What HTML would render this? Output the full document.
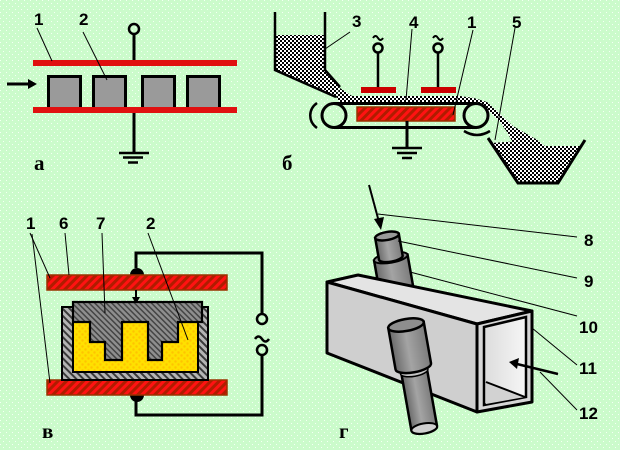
<!DOCTYPE html>
<html><head><meta charset="utf-8"><style>
html,body{margin:0;padding:0;background:#ccfccc;}
svg{display:block;}
.n{font-family:"Liberation Sans",Arial,sans-serif;font-weight:bold;font-size:17px;fill:#000;}
.l{font-family:"Liberation Serif","Times New Roman",serif;font-weight:bold;font-size:21px;fill:#000;}
</style></head><body>
<svg width="620" height="450" viewBox="0 0 620 450" xmlns="http://www.w3.org/2000/svg">
<defs>
<pattern id="bg" width="6" height="6" patternUnits="userSpaceOnUse">
<rect width="6" height="6" fill="#cbfbcb"/><rect x="0" y="0" width="1" height="1" fill="#f4fff4"/><rect x="3" y="3" width="1" height="1" fill="#f4fff4"/>
</pattern>
<pattern id="stip" width="4" height="4" patternUnits="userSpaceOnUse">
<rect width="4" height="4" fill="#fff"/><rect x="0" y="0" width="2" height="2" fill="#000"/><rect x="2" y="2" width="2" height="2" fill="#000"/>
</pattern>
<pattern id="red" width="6" height="6" patternUnits="userSpaceOnUse" patternTransform="rotate(45)">
<rect width="6" height="6" fill="#b01c00"/><rect x="0" width="3" height="6" fill="#ff1212"/>
</pattern>
<pattern id="gh" width="5" height="5" patternUnits="userSpaceOnUse" patternTransform="rotate(-45)">
<rect width="5" height="5" fill="#b4b4b4"/><rect x="0" width="2" height="5" fill="#3a3a3a"/>
</pattern>
<pattern id="dh" width="4" height="4" patternUnits="userSpaceOnUse" patternTransform="rotate(-45)">
<rect width="4" height="4" fill="#8e8e8e"/><rect x="0" width="1.5" height="4" fill="#444"/>
</pattern>
<pattern id="yel" width="6" height="6" patternUnits="userSpaceOnUse">
<rect width="6" height="6" fill="#ffe000"/><circle cx="1.5" cy="1.5" r="1.2" fill="#ffc400"/><circle cx="4.5" cy="4.5" r="1.2" fill="#ffc400"/>
</pattern>
<linearGradient id="cyl" x1="0" x2="1" y1="0" y2="0">
<stop offset="0" stop-color="#6a6a6a"/><stop offset="0.45" stop-color="#a4a4a4"/><stop offset="1" stop-color="#7c7c7c"/>
</linearGradient>
<linearGradient id="inner" x1="0" x2="1" y1="0" y2="0">
<stop offset="0" stop-color="#dcdcdc"/><stop offset="1" stop-color="#f6f6f6"/>
</linearGradient>
</defs>
<rect width="620" height="450" fill="url(#bg)"/>

<!-- ===== а ===== -->
<line x1="134" y1="34" x2="134" y2="60" stroke="#000" stroke-width="3"/>
<circle cx="134" cy="29" r="5" fill="none" stroke="#000" stroke-width="2.5"/>
<rect x="33" y="60" width="204" height="6" fill="#e01010"/>
<g fill="#9a9a9a" stroke="#000" stroke-width="3">
<rect x="48.5" y="76.5" width="32" height="32"/>
<rect x="93.5" y="76.5" width="32" height="32"/>
<rect x="142.5" y="76.5" width="32" height="32"/>
<rect x="187.5" y="76.5" width="32" height="32"/>
</g>
<rect x="33" y="107" width="204" height="6" fill="#e01010"/>
<line x1="134" y1="113" x2="134" y2="153" stroke="#000" stroke-width="3"/>
<g stroke="#000" stroke-width="2.5">
<line x1="119" y1="153" x2="149" y2="153"/>
<line x1="123" y1="157.5" x2="143" y2="157.5"/>
<line x1="128" y1="162.5" x2="138" y2="162.5"/>
</g>
<line x1="7" y1="84" x2="30" y2="84" stroke="#000" stroke-width="3"/>
<polygon points="37,84 28,79 28,89" fill="#000"/>
<g stroke="#000" stroke-width="1">
<line x1="37" y1="28" x2="52" y2="61"/>
<line x1="83" y1="32" x2="107" y2="80"/>
</g>
<text class="n" x="34" y="25">1</text>
<text class="n" x="79" y="25">2</text>
<text class="l" x="34" y="170">а</text>

<!-- ===== б ===== -->
<polygon points="276,35 324,35 324,70 340,87 336,97 276,70" fill="url(#stip)"/>
<path d="M336,97 L340,88 L352,96 L460,96 L474,98 L487,102 L497,111 L513,126 L527,134 L537,140 L542,146 L513,143 L507,132 L500,122 L490,112 L480,105 L470,103 L340,103 Z" fill="url(#stip)"/>
<polyline points="275,12 275,70 336,97" fill="none" stroke="#000" stroke-width="2.5"/>
<polyline points="325,12 325,70 340,87" fill="none" stroke="#000" stroke-width="2.5"/>
<polygon points="491,143 520,141 527,135 536,139 545,146 581,146 558,182 519,182" fill="url(#stip)"/>
<polyline points="488,138 518,183 558,183 585,140" fill="none" stroke="#000" stroke-width="3"/>
<g fill="none" stroke="#000" stroke-width="3">
<circle cx="334" cy="115.5" r="12"/>
<circle cx="476" cy="115.5" r="12"/>
<line x1="334" y1="103.5" x2="476" y2="103.5"/>
<line x1="334" y1="127.5" x2="476" y2="127.5"/>
</g>
<rect x="357" y="107" width="98" height="14" fill="url(#red)" stroke="#993300" stroke-width="1.5"/>
<line x1="407" y1="121" x2="407" y2="148" stroke="#000" stroke-width="3"/>
<g stroke="#000" stroke-width="2.5">
<line x1="392" y1="148" x2="422" y2="148"/>
<line x1="397" y1="153" x2="417" y2="153"/>
<line x1="402" y1="158" x2="412" y2="158"/>
</g>
<path d="M317,103 A18,16 0 0 0 317,128" fill="none" stroke="#000" stroke-width="2.5"/>
<path d="M464,131 Q477,139 490,131" fill="none" stroke="#000" stroke-width="2.5"/>
<rect x="361" y="87" width="35" height="6" fill="#cc0000"/>
<rect x="421" y="87" width="35" height="6" fill="#cc0000"/>
<g stroke="#000" stroke-width="2.5" fill="none">
<line x1="378" y1="53" x2="378" y2="87"/>
<line x1="438" y1="53" x2="438" y2="87"/>
<circle cx="378" cy="48" r="4.5"/>
<circle cx="438" cy="48" r="4.5"/>
<path d="M373,38 q2.5,-4 5,0 t5,0" stroke-width="2"/>
<path d="M433,38 q2.5,-4 5,0 t5,0" stroke-width="2"/>
</g>
<g stroke="#000" stroke-width="1">
<line x1="350" y1="32" x2="325" y2="49"/>
<line x1="412" y1="29" x2="406" y2="100"/>
<line x1="473" y1="30" x2="453" y2="115"/>
<line x1="515" y1="28" x2="495" y2="140"/>
</g>
<text class="n" x="352" y="27">3</text>
<text class="n" x="409" y="28">4</text>
<text class="n" x="467" y="28">1</text>
<text class="n" x="512" y="28">5</text>
<text class="l" x="282" y="170">б</text>

<!-- ===== в ===== -->
<polyline points="136,268 136,253 262,253 262,314" fill="none" stroke="#000" stroke-width="3"/>
<polyline points="262,355 262,415 136,415 136,400" fill="none" stroke="#000" stroke-width="3"/>
<circle cx="262" cy="319" r="5" fill="none" stroke="#000" stroke-width="2.5"/>
<circle cx="262" cy="350" r="5" fill="none" stroke="#000" stroke-width="2.5"/>
<path d="M255,339 q3.5,-5 7,0 t7,0" fill="none" stroke="#000" stroke-width="2.5"/>
<path d="M130,275 A7,7 0 0 1 144,275 Z" fill="#000"/>
<path d="M130,395 A7,7 0 0 0 144,395 Z" fill="#000"/>
<rect x="47" y="275" width="180" height="15" fill="url(#red)" stroke="#993300" stroke-width="1.5"/>
<rect x="47" y="380" width="180" height="15" fill="url(#red)" stroke="#993300" stroke-width="1.5"/>
<line x1="136" y1="290" x2="136" y2="298" stroke="#000" stroke-width="2"/>
<polygon points="136,304 132,297 140,297" fill="#000"/>
<rect x="62" y="307" width="146" height="73" fill="url(#gh)" stroke="#000" stroke-width="2"/>
<rect x="73" y="312" width="125" height="60" fill="url(#yel)" stroke="#000" stroke-width="2"/>
<polygon points="73,302 202,302 202,322 178,322 178,342 162,342 162,360 148,360 148,322 122,322 122,360 105,360 105,342 90,342 90,322 73,322" fill="url(#dh)" stroke="#000" stroke-width="2.2"/>
<g stroke="#000" stroke-width="1">
<line x1="30" y1="233" x2="50" y2="278"/>
<line x1="32" y1="234" x2="50" y2="383"/>
<line x1="65" y1="233" x2="69" y2="275"/>
<line x1="102" y1="233" x2="105" y2="313"/>
<line x1="148" y1="233" x2="188" y2="340"/>
</g>
<text class="n" x="26" y="229">1</text>
<text class="n" x="59" y="229">6</text>
<text class="n" x="96" y="229">7</text>
<text class="n" x="146" y="229">2</text>
<text class="l" x="42" y="438">в</text>

<!-- ===== г ===== -->
<!-- upper cylinder (behind box) -->
<g transform="translate(387,236) rotate(-10)">
<path d="M-17,22 L-17,70 L17,70 L17,22 Z" fill="url(#cyl)" stroke="#000" stroke-width="2.5"/>
<ellipse cx="0" cy="22" rx="17" ry="5" fill="#8a8a8a" stroke="#000" stroke-width="2"/>
<path d="M-12,0 L-12,22 A12,4 0 0 0 12,22 L12,0 Z" fill="url(#cyl)" stroke="#000" stroke-width="2.5"/>
<ellipse cx="0" cy="0" rx="12" ry="4" fill="#9a9a9a" stroke="#000" stroke-width="2.5"/>
</g>
<!-- box -->
<polygon points="327,282 358,275 532,311 477,324" fill="#e4e4e4" stroke="#000" stroke-width="3" stroke-linejoin="round"/>
<polygon points="327,282 477,324 477,412 327,353" fill="#cfcfcf" stroke="#000" stroke-width="3" stroke-linejoin="round"/>
<polygon points="477,324 532,311 532,402 477,412" fill="#d6d6d6" stroke="#000" stroke-width="3" stroke-linejoin="round"/>
<polygon points="484,327 526,317 526,397 484,405" fill="url(#inner)" stroke="#000" stroke-width="2.5"/>
<polygon points="486,382 525,397 486,404" fill="#d2d2d2"/>
<line x1="486" y1="382" x2="525" y2="397" stroke="#000" stroke-width="2"/>
<!-- lower cylinder -->
<g transform="translate(406,325) rotate(-10)">
<path d="M-13,44 L-13,105 A13,5 0 0 0 13,105 L13,44 Z" fill="url(#cyl)" stroke="#000" stroke-width="2.5"/>
<ellipse cx="0" cy="105" rx="13" ry="5" fill="#d0d0d0" stroke="#000" stroke-width="2"/>
<ellipse cx="0" cy="47" rx="14" ry="5" fill="#c4c4c4" stroke="#000" stroke-width="1.5"/>
<path d="M-18,0 L-18,42 A18,6 0 0 0 18,42 L18,0 Z" fill="url(#cyl)" stroke="#000" stroke-width="2.5"/>
<ellipse cx="0" cy="0" rx="18" ry="6" fill="#8e8e8e" stroke="#000" stroke-width="2.5"/>
</g>
<!-- arrows & leaders -->
<line x1="369" y1="185" x2="379" y2="222" stroke="#000" stroke-width="2"/>
<polygon points="381,230 374,219 384,217" fill="#000"/>
<line x1="558" y1="374" x2="517" y2="364" stroke="#000" stroke-width="2.5"/>
<polygon points="509,362 519,358 517,369" fill="#000"/>
<g stroke="#000" stroke-width="1">
<line x1="378" y1="214" x2="577" y2="237"/>
<line x1="398" y1="241" x2="577" y2="278"/>
<line x1="410" y1="272" x2="577" y2="316"/>
<line x1="532" y1="328" x2="577" y2="365"/>
<line x1="540" y1="372" x2="577" y2="410"/>
</g>
<text class="n" x="584" y="246">8</text>
<text class="n" x="584" y="287">9</text>
<text class="n" x="579" y="333">10</text>
<text class="n" x="579" y="374">11</text>
<text class="n" x="579" y="419">12</text>
<text class="l" x="339" y="438">г</text>
</svg>
</body></html>
